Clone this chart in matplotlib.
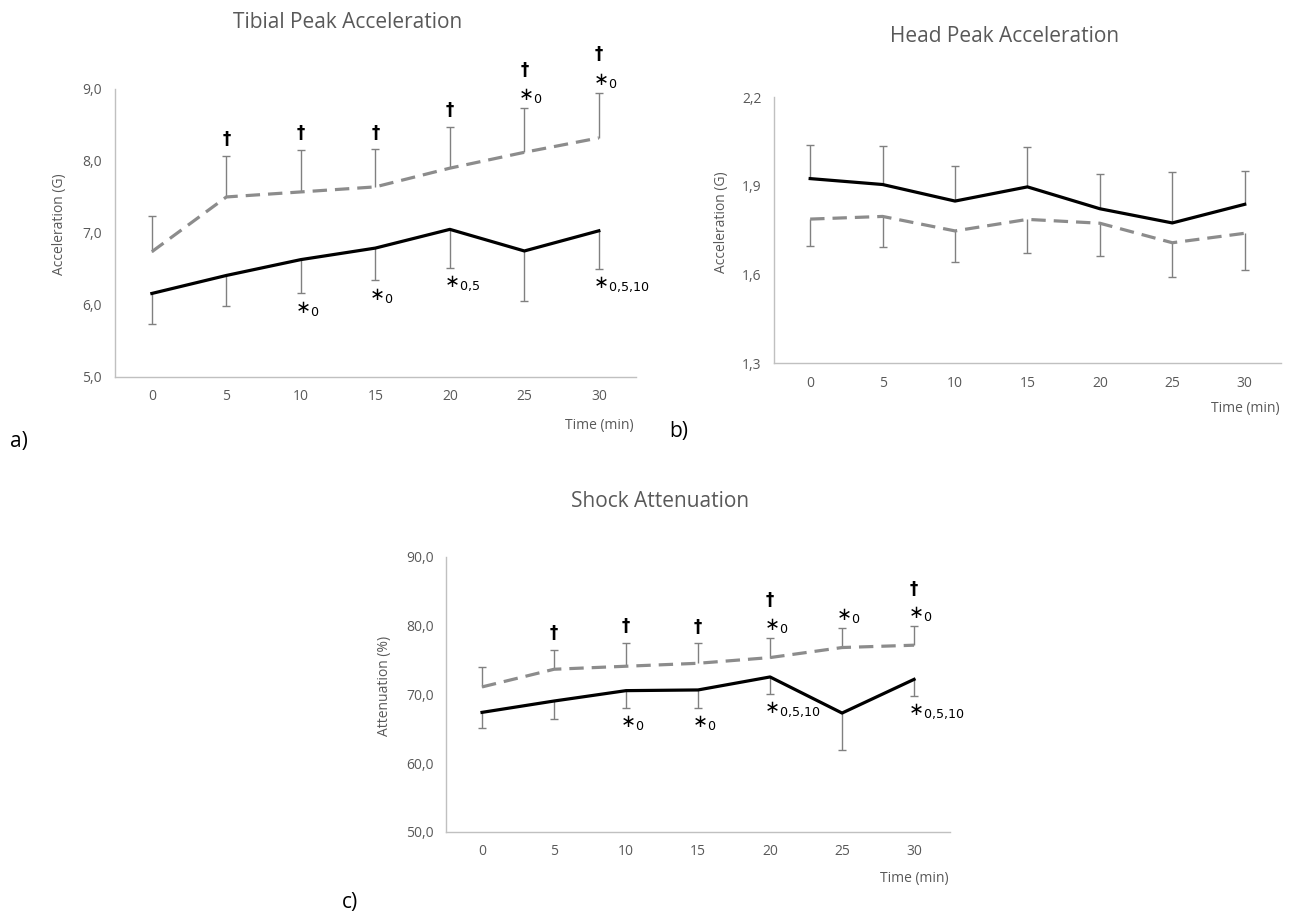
import matplotlib
matplotlib.use('Agg')
import matplotlib.pyplot as plt

plt.rcParams['font.family'] = ['Open Sans', 'DejaVu Sans']
plt.rcParams['mathtext.fontset'] = 'dejavusans'

TEXT_GREY = '#595959'
SPINE_GREY = '#c0c0c0'
BAR_GREY = '#808080'
DASH_GREY = '#8c8c8c'

time_min = [0, 5, 10, 15, 20, 25, 30]

# tibial peak acceleration (G)
tibial_solid = [6.16, 6.41, 6.63, 6.79, 7.05, 6.75, 7.03]
tibial_solid_sd = [0.43, 0.43, 0.47, 0.45, 0.53, 0.70, 0.53]
tibial_dash = [6.74, 7.50, 7.57, 7.64, 7.90, 8.12, 8.32]
tibial_dash_sd = [0.49, 0.57, 0.58, 0.52, 0.57, 0.61, 0.63]
tibial_dash_dagger = [0, 1, 1, 1, 1, 1, 1]
tibial_dash_star = [None, None, None, None, None, '0', '0']
tibial_solid_star = [None, None, '0', '0', '0,5', None, '0,5,10']

# head peak acceleration (G)
head_solid = [1.924, 1.904, 1.848, 1.896, 1.822, 1.774, 1.837]
head_solid_sd = [0.112, 0.130, 0.118, 0.135, 0.116, 0.173, 0.112]
head_dash = [1.787, 1.796, 1.747, 1.786, 1.773, 1.707, 1.739]
head_dash_sd = [0.091, 0.102, 0.105, 0.113, 0.110, 0.117, 0.124]

# shock attenuation (%)
shock_solid = [67.4, 69.05, 70.56, 70.66, 72.55, 67.3, 72.2]
shock_solid_sd = [2.24, 2.62, 2.48, 2.58, 2.43, 5.4, 2.47]
shock_dash = [71.1, 73.67, 74.11, 74.54, 75.37, 76.83, 77.17]
shock_dash_sd = [2.96, 2.87, 3.4, 2.92, 2.87, 2.77, 2.72]
shock_dash_dagger = [0, 1, 1, 1, 1, 0, 1]
shock_dash_star = [None, None, None, None, '0', '0', '0']
shock_solid_star = [None, None, '0', '0', '0,5,10', None, '0,5,10']

tibial_ticks = [5.0, 6.0, 7.0, 8.0, 9.0]
head_ticks = [1.3, 1.6, 1.9, 2.2]
shock_ticks = [50.0, 60.0, 70.0, 80.0, 90.0]


def comma(v):
    return f'{v:.1f}'.replace('.', ',')


def one_sided_bars(ax, x, mean, sd, direction):
    ends = [m + direction * s for m, s in zip(mean, sd)]
    ax.vlines(x, mean, ends, color=BAR_GREY, lw=1.0, zorder=2)
    ax.plot(x, ends, ls='none', marker='_', ms=6, mew=1.0, color=BAR_GREY, zorder=2)
    return ends


def star(ax, x, y, sub, dy):
    # braces keep mathtext from padding the commas
    sub = sub.replace(',', '{,}')
    ax.annotate(r'$\ast_{%s}$' % sub, xy=(x, y), xytext=(-4.5, dy),
                textcoords='offset points', ha='left', va='center',
                fontsize=13, color='black')


def dagger(ax, x, y, dy):
    ax.annotate('\u2020', xy=(x, y), xytext=(0, dy), textcoords='offset points',
                ha='center', va='center', fontsize=12, fontweight='bold',
                color='black', family='DejaVu Sans')


def panel(rect, solid, solid_sd, dash, dash_sd, ticks, ylabel, solid_dir, dash_dir, label_x):
    ax = fig.add_axes(rect)
    s_ends = one_sided_bars(ax, time_min, solid, solid_sd, solid_dir)
    d_ends = one_sided_bars(ax, time_min, dash, dash_sd, dash_dir)
    ax.plot(time_min, solid, color='black', lw=2.3, zorder=3)
    ax.plot(time_min, dash, color=DASH_GREY, lw=2.3, dashes=(4.5, 2.5), zorder=3)
    ax.set_xlim(-2.5, 32.5)
    ax.set_ylim(ticks[0], ticks[-1])
    ax.set_xticks(time_min)
    ax.set_xticklabels([str(t) for t in time_min])
    ax.set_yticks(ticks)
    ax.set_yticklabels([comma(t) for t in ticks])
    ax.tick_params(length=0, labelsize=10, labelcolor=TEXT_GREY)
    ax.tick_params(axis='x', pad=9)
    ax.tick_params(axis='y', pad=9)
    for side in ('top', 'right'):
        ax.spines[side].set_visible(False)
    for side in ('left', 'bottom'):
        ax.spines[side].set_color(SPINE_GREY)
        ax.spines[side].set_linewidth(1.0)
    ax.set_ylabel(ylabel, fontsize=10, color=TEXT_GREY)
    ax.yaxis.set_label_coords(label_x, 0.53)
    ax.text(0.93, -0.17, 'Time (min)', transform=ax.transAxes, ha='center',
            va='center', fontsize=10, color=TEXT_GREY)
    return ax, s_ends, d_ends


fig = plt.figure(figsize=(12.91, 9.17), dpi=100)

# a) tibial
ax_a, s_end, d_end = panel([0.0888, 0.5889, 0.4039, 0.3141], tibial_solid, tibial_solid_sd,
                           tibial_dash, tibial_dash_sd, tibial_ticks, 'Acceleration (G)',
                           -1, 1, -0.091)
for x, y, dg, st in zip(time_min, d_end, tibial_dash_dagger, tibial_dash_star):
    if st:
        star(ax_a, x, y, st, 9)
        if dg:
            dagger(ax_a, x, y, 28)
    elif dg:
        dagger(ax_a, x, y, 12)
for x, y, st in zip(time_min, s_end, tibial_solid_star):
    if st:
        star(ax_a, x, y, st, -11)

# b) head
ax_b, s_end, d_end = panel([0.5995, 0.6041, 0.3927, 0.2901], head_solid, head_solid_sd,
                           head_dash, head_dash_sd, head_ticks, 'Acceleration (G)',
                           1, -1, -0.089)

# c) shock attenuation
ax_c, s_end, d_end = panel([0.3455, 0.0927, 0.3904, 0.2999], shock_solid, shock_solid_sd,
                           shock_dash, shock_dash_sd, shock_ticks, 'Attenuation (%)',
                           -1, 1, -0.107)
for x, y, dg, st in zip(time_min, d_end, shock_dash_dagger, shock_dash_star):
    if st:
        star(ax_c, x, y, st, 9)
        if dg:
            dagger(ax_c, x, y, 27)
    elif dg:
        dagger(ax_c, x, y, 12)
for x, y, st in zip(time_min, s_end, shock_solid_star):
    if st:
        star(ax_c, x, y, st, -11)

# titles and panel letters
fig.text(0.2696, 0.976, 'Tibial Peak Acceleration', ha='center', va='center',
         fontsize=15, color=TEXT_GREY)
fig.text(0.7785, 0.9607, 'Head Peak Acceleration', ha='center', va='center',
         fontsize=15, color=TEXT_GREY)
fig.text(0.5112, 0.4526, 'Shock Attenuation', ha='center', va='center',
         fontsize=15, color=TEXT_GREY)
fig.text(0.0147, 0.518, 'a)', ha='center', va='center', fontsize=15)
fig.text(0.526, 0.529, 'b)', ha='center', va='center', fontsize=15)
fig.text(0.2711, 0.0153, 'c)', ha='center', va='center', fontsize=15)

fig.savefig('out.png', dpi=100)
plt.close(fig)
